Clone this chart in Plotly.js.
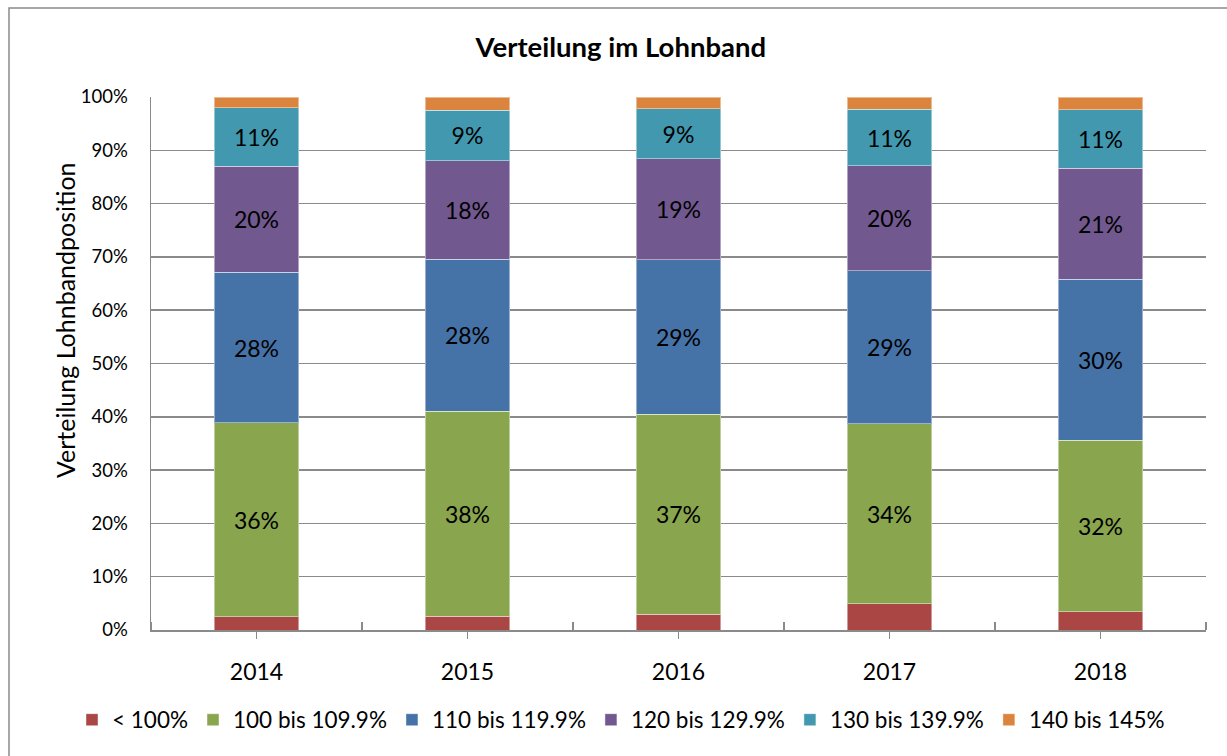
<!DOCTYPE html>
<html>
<head>
<meta charset="utf-8">
<script src="https://cdn.plot.ly/plotly-3.0.1.min.js"></script>
<style>
  html, body { margin: 0; padding: 0; background: #ffffff; }
  #chart { width: 1227px; height: 756px; }
</style>
</head>
<body>
<div id="chart"></div>
<script>
// ---- data ----
var years = [2014, 2015, 2016, 2017, 2018];
var seriesNames = ['< 100%', '100 bis 109.9%', '110 bis 119.9%', '120 bis 129.9%', '130 bis 139.9%', '140 bis 145%'];
var below100   = [2.5, 2.6, 3.0, 4.9, 3.4];
var s100to110  = [36.4, 38.48, 37.45, 33.8, 32.2];
var s110to120  = [28.2, 28.48, 29.0, 28.7, 30.2];
var s120to130  = [19.9, 18.48, 19.0, 19.7, 20.8];
var s130to140  = [11.0, 9.48, 9.3, 10.6, 11.0];
var s140to145  = [2.0, 2.48, 2.25, 2.3, 2.4];
var seriesValues = [below100, s100to110, s110to120, s120to130, s130to140, s140to145];
var showLabels = [false, true, true, true, true, false];
var colors = ['#AA4643', '#89A54E', '#4572A7', '#71588F', '#4198AF', '#DB843D'];
var chartTitle = 'Verteilung im Lohnband';
var yTitle = 'Verteilung Lohnbandposition';

var FONT = 'Lato, Carlito, "Liberation Sans", sans-serif';
var GRID = '#8a8a8a';

var traces = seriesValues.map(function (vals, i) {
  return {
    type: 'bar',
    name: seriesNames[i],
    x: years,
    y: vals,
    marker: { color: colors[i], line: { color: 'rgba(255,255,255,0.45)', width: 1 } },
    texttemplate: showLabels[i] ? '%{y:.0f}%' : '',
    textposition: showLabels[i] ? 'inside' : 'none',
    insidetextanchor: 'middle',
    textangle: 0,
    constraintext: 'none',
    textfont: { family: FONT, size: 23, color: '#000000' },
    hoverinfo: 'name+y'
  };
});

var boundaries = [2013.5, 2014.5, 2015.5, 2016.5, 2017.5, 2018.5];

var layout = {
  width: 1227,
  height: 756,
  paper_bgcolor: '#ffffff',
  plot_bgcolor: '#ffffff',
  margin: { l: 151, r: 21, t: 97, b: 126, pad: 0, autoexpand: false },
  barmode: 'stack',
  bargap: 0.6,
  font: { family: FONT, color: '#000000' },
  title: {
    text: '<b>' + chartTitle + '</b>',
    font: { family: FONT, size: 27.5, color: '#000000' },
    x: 0.506, xref: 'container', xanchor: 'center',
    y: 0.937, yref: 'container', yanchor: 'middle'
  },
  xaxis: {
    type: 'linear',
    range: [2013.5, 2018.5],
    tickmode: 'array',
    tickvals: years,
    ticktext: years.map(String),
    ticks: 'outside',
    ticklen: 7,
    tickwidth: 1.5,
    tickcolor: GRID,
    ticklabelstandoff: 14,
    tickfont: { family: FONT, size: 23, color: '#000000' },
    showline: true,
    linecolor: GRID,
    linewidth: 1.5,
    showgrid: false,
    zeroline: false,
    minor: {
      tickmode: 'array',
      tickvals: boundaries,
      ticks: 'inside',
      ticklen: 8,
      tickwidth: 1.5,
      tickcolor: GRID,
      showgrid: false
    },
    fixedrange: true
  },
  yaxis: {
    range: [0, 100],
    dtick: 10,
    tick0: 0,
    ticksuffix: '%',
    ticks: '',
    ticklabelstandoff: 18,
    tickfont: { family: FONT, size: 18.5, color: '#000000' },
    showline: true,
    linecolor: GRID,
    linewidth: 1.5,
    showgrid: true,
    gridcolor: GRID,
    gridwidth: 1.5,
    zeroline: false,
    fixedrange: true
  },
  annotations: [{
    text: yTitle,
    xref: 'paper', yref: 'paper',
    x: (65 - 151) / 1055, y: (630 - 320) / 533,
    xanchor: 'center', yanchor: 'middle',
    textangle: -90,
    showarrow: false,
    font: { family: FONT, size: 25, color: '#000000' }
  }],
  showlegend: true,
  legend: {
    orientation: 'h',
    xref: 'paper',
    x: (72 - 151) / 1055,
    xanchor: 'left',
    yref: 'paper',
    y: -0.169,
    yanchor: 'middle',
    font: { family: FONT, size: 22.5, color: '#000000' },
    itemwidth: 30,
    traceorder: 'normal',
    bgcolor: 'rgba(0,0,0,0)'
  },
  shapes: [{
    type: 'rect',
    xref: 'paper', yref: 'paper',
    x0: (9 - 151) / 1055, x1: 1.2,
    y0: -0.5, y1: (630 - 8) / 533,
    line: { color: GRID, width: 1.5 },
    fillcolor: 'rgba(0,0,0,0)',
    layer: 'below'
  }]
};

Plotly.newPlot('chart', traces, layout, { displayModeBar: false, staticPlot: true });
</script>
</body>
</html>
